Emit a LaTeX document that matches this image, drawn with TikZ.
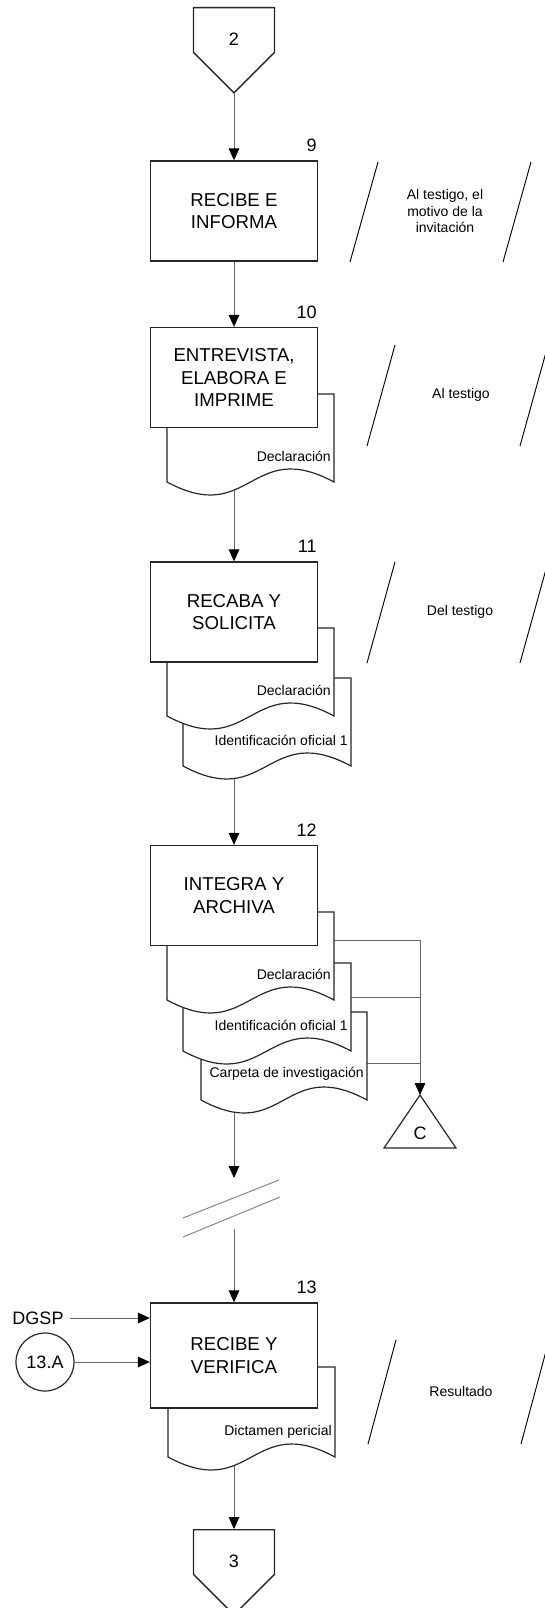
\documentclass[tikz,border=0pt]{standalone}
\usepackage{fontspec}
\setmainfont{Liberation Sans}
\usetikzlibrary{arrows.meta,shapes.symbols,backgrounds}

\tikzset{DLbox/.style={draw=black!85,line width=1pt,fill=white,minimum width=125.25pt,minimum height=75pt,
           inner sep=0pt,align=center,font=\fontsize{14}{16.8}\selectfont},
         DLdoc/.style={draw=black!85,line width=0.9pt,fill=white},
         DLdoclab/.style={inner sep=0pt,font=\fontsize{10.5}{12.5}\selectfont},
         DLnote/.style={align=center,font=\fontsize{10.5}{12.4}\selectfont},
         DLnum/.style={inner sep=0pt,font=\fontsize{13.5}{16}\selectfont},
         DLpage/.style={signal,signal to=south,signal pointer angle=90,draw=black!85,line width=1pt,fill=white,
           minimum width=60.75pt,minimum height=33.5pt,inner sep=0pt},
         DLline/.style={draw=black!60,line width=0.75pt},
         DLarrow/.style={DLline,-{Triangle[length=9pt,width=8pt,color=black]}},
         DLslash/.style={draw=black,line width=0.7pt}}

\begin{document}
\begin{tikzpicture}[x=0.75pt,y=-0.75pt]
  \useasboundingbox (0,0) rectangle (544,1608);
  % off-page connector in
  \node[DLpage,anchor=north,label={[DLnum,yshift=-7pt]center:2}] (p2) at (234,7) {};

  % step 9
  \node[DLbox] (b9) at (234,211) {RECIBE E\\INFORMA};
  \node[DLnum,anchor=base east] (n9) at ([xshift=-1pt,yshift=6.5pt]b9.north east) {9};
  \node[DLnote] (t9) at (445,211) {Al testigo, el\\motivo de la\\invitación};

  % step 10
  \foreach \l/\t/\r/\n/\txt in {167/394/334/d10a/Declaración}
    {\draw[DLdoc] (\l,\t) -- (\r,\t) -- (\r,\t+88) .. controls ({(\l+\r)/2},\t+43) and ({(\l+\r)/2},\t+133) .. (\l,\t+88) -- cycle;
     \node[DLdoclab,anchor=east] (\n) at (\r-3,\t+62) {\txt};}
  \node[DLbox] (b10) at (234,377.5) {ENTREVISTA,\\ELABORA E\\IMPRIME};
  \node[DLnum,anchor=base east] (n10) at ([xshift=-1pt,yshift=6.5pt]b10.north east) {10};
  \node[DLnote] (t10) at (461,395) {Al testigo};

  % step 11
  \foreach \l/\t/\r/\n/\txt in {183/678/351/d11b/Identificación oficial 1,167/628/334/d11a/Declaración}
    {\draw[DLdoc] (\l,\t) -- (\r,\t) -- (\r,\t+88) .. controls ({(\l+\r)/2},\t+43) and ({(\l+\r)/2},\t+133) .. (\l,\t+88) -- cycle;
     \node[DLdoclab,anchor=east] (\n) at (\r-3,\t+62) {\txt};}
  \node[DLbox] (b11) at (234,612) {RECABA Y\\SOLICITA};
  \node[DLnum,anchor=base east] (n11) at ([xshift=-1pt,yshift=6.5pt]b11.north east) {11};
  \node[DLnote] (t11) at (460,612) {Del testigo};

  % step 12
  \foreach \l/\t/\r/\n/\txt in {201/1012/367/d12c/Carpeta de investigación,183/963/351/d12b/Identificación oficial 1,
                                167/912/334/d12a/Declaración}
    {\draw[DLdoc] (\l,\t) -- (\r,\t) -- (\r,\t+88) .. controls ({(\l+\r)/2},\t+43) and ({(\l+\r)/2},\t+133) .. (\l,\t+88) -- cycle;
     \node[DLdoclab,anchor=east] (\n) at (\r-3,\t+62) {\txt};}
  \node[DLbox] (b12) at (234,895.5) {INTEGRA Y\\ARCHIVA};
  \node[DLnum,anchor=base east] (n12) at ([xshift=-1pt,yshift=6.5pt]b12.north east) {12};
  \coordinate (k1) at (334,940); \coordinate (k2) at (351,997); \coordinate (k3) at (367,1063);

  % connector C
  \coordinate (cC) at (420,1095);
  \draw[DLdoc] (cC) -- ++(36,53) -- ++(-72,0) -- cycle;
  \node[DLnum] (tC) at (420,1133) {C};

  % break
  \coordinate (brk1) at (234,1178); \coordinate (brk2) at (234,1229);
  \draw[draw=black!45,line width=0.8pt] (183,1218) -- (279,1180) (183,1237) -- (280,1197);

  % step 13
  \foreach \l/\t/\r/\n/\txt in {168/1367/335/d13a/Dictamen pericial}
    {\draw[DLdoc] (\l,\t) -- (\r,\t) -- (\r,\t+90) .. controls ({(\l+\r)/2},\t+45) and ({(\l+\r)/2},\t+135) .. (\l,\t+90) -- cycle;
     \node[DLdoclab,anchor=east] (\n) at (\r-3,\t+65) {\txt};}
  \node[DLbox,minimum height=78.75pt] (b13) at (234,1355.5) {RECIBE Y\\VERIFICA};
  \node[DLnum,anchor=base east] (n13) at ([xshift=-1pt,yshift=6.5pt]b13.north east) {13};
  \node[DLnote] (t13) at (461,1391) {Resultado};
  \node[DLnum] (dgsp) at (38,1318) {DGSP};
  \node[circle,draw=black!85,line width=0.9pt,minimum size=43.5pt,inner sep=0pt,font=\fontsize{13.5}{16}\selectfont]
    (c13a) at (45,1362) {13.A};

  % off-page connector out
  \node[DLpage,anchor=north,label={[DLnum,yshift=-7pt]center:3}] (p3) at (234,1529) {};

  % annotation slashes
  \foreach \l/\t/\b in {350/162/262,367/345/446,367/562/663,368/1340/1444}
    {\draw[DLslash] (\l+28,\t) -- (\l,\b); \draw[DLslash] (\l+181,\t) -- (\l+153,\b);}

  % connectors
  \begin{scope}[on background layer]
    \draw[DLarrow] (p2.south) -- (b9.north);
    \draw[DLarrow] (b9.south) -- (b10.north);
    \draw[DLarrow] (b10.south) -- (b11.north);
    \draw[DLarrow] (b11.south) -- (b12.north);
    \draw[DLarrow] (b12.south) -- (brk1);
    \draw[DLarrow] (brk2) -- (b13.north);
    \draw[DLarrow] (b13.south) -- (p3.north);
    \draw[DLarrow] ([xshift=4.5pt]dgsp.east) -- (dgsp -| b13.west);
    \draw[DLarrow] (c13a.east) -- (c13a -| b13.west);
    \draw[DLline] (k1) -- (k1 -| cC) (k2) -- (k2 -| cC) (k3) -- (k3 -| cC);
    \draw[DLarrow] (k1 -| cC) -- (cC);
  \end{scope}
\end{tikzpicture}
\end{document}
